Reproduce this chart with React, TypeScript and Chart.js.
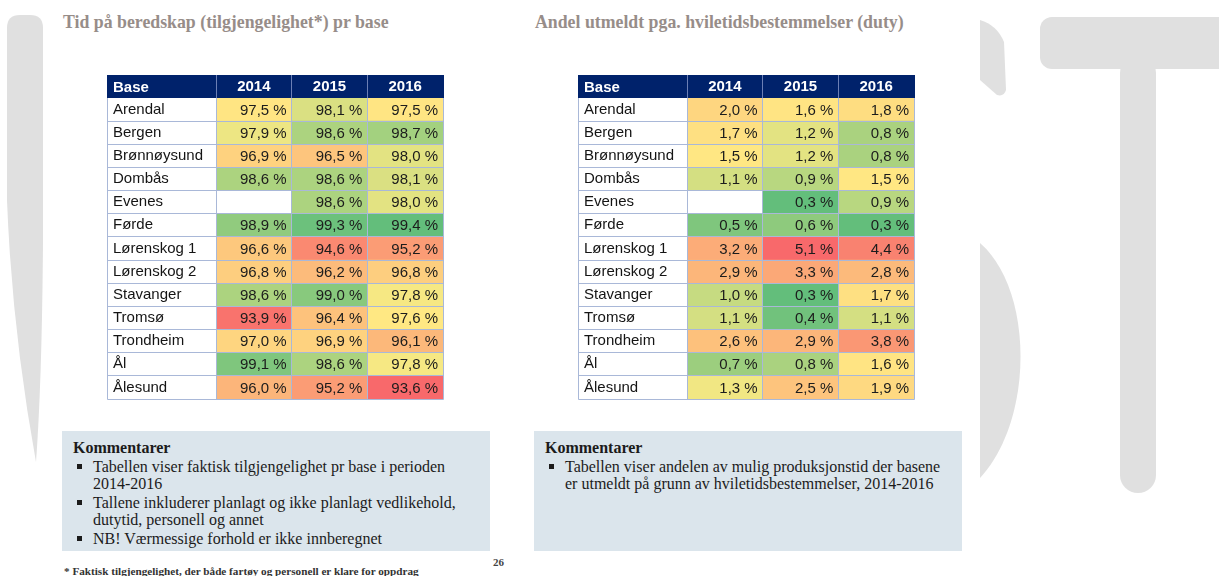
import React, { useEffect, useRef } from 'react';
import { Chart, registerables } from 'chart.js';

Chart.register(...registerables);

// ---------- data ----------
const bases = ['Arendal', 'Bergen', 'Brønnøysund', 'Dombås', 'Evenes', 'Førde', 'Lørenskog 1', 'Lørenskog 2', 'Stavanger', 'Tromsø', 'Trondheim', 'Ål', 'Ålesund'];
const years = ['2014', '2015', '2016'];

const avail2014 = [97.5, 97.9, 96.9, 98.6, null, 98.9, 96.6, 96.8, 98.6, 93.9, 97.0, 99.1, 96.0];
const avail2015 = [98.1, 98.6, 96.5, 98.6, 98.6, 99.3, 94.6, 96.2, 99.0, 96.4, 96.9, 98.6, 95.2];
const avail2016 = [97.5, 98.7, 98.0, 98.1, 98.0, 99.4, 95.2, 96.8, 97.8, 97.6, 96.1, 97.8, 93.6];

const duty2014 = [2.0, 1.7, 1.5, 1.1, null, 0.5, 3.2, 2.9, 1.0, 1.1, 2.6, 0.7, 1.3];
const duty2015 = [1.6, 1.2, 1.2, 0.9, 0.3, 0.6, 5.1, 3.3, 0.3, 0.4, 2.9, 0.8, 2.5];
const duty2016 = [1.8, 0.8, 0.8, 1.5, 0.9, 0.3, 4.4, 2.8, 1.7, 1.1, 3.8, 1.6, 1.9];

const leftTitle = 'Tid på beredskap (tilgjengelighet*) pr base';
const rightTitle = 'Andel utmeldt pga. hviletidsbestemmelser (duty)';
const leftComments = [
  ['Tabellen viser faktisk tilgjengelighet pr base i perioden', '2014-2016'],
  ['Tallene inkluderer planlagt og ikke planlagt vedlikehold,', 'dutytid, personell og annet'],
  ['NB! Værmessige forhold er ikke innberegnet'],
];
const rightComments = [
  ['Tabellen viser andelen av mulig produksjonstid der basene', 'er utmeldt på grunn av hviletidsbestemmelser, 2014-2016'],
];
const footnote = '* Faktisk tilgjengelighet, der både fartøy og personell er klare for oppdrag';
const pageNumber = '26';

// ---------- styles ----------
const NAVY = '#00226b';
const GRID = '#a9b8d8';
const HEAD_GRID = '#6b7fb5';
const SANS = 'Arial, "Liberation Sans", sans-serif';
const SERIF = '"Liberation Serif", "Times New Roman", serif';
const RED = [248, 105, 107];
const YEL = [255, 235, 132];
const GRN = [99, 190, 123];

function makeColorScale(vals: number[], higherIsBetter: boolean) {
  const s = [...vals].sort((a, b) => a - b);
  const min = s[0];
  const max = s[s.length - 1];
  const pos = (s.length - 1) * 0.5;
  const lo = Math.floor(pos);
  const mid = s[lo] + (s[Math.ceil(pos)] - s[lo]) * (pos - lo);
  const lowC = higherIsBetter ? RED : GRN;
  const highC = higherIsBetter ? GRN : RED;
  return (v: number) => {
    let a: number[], b: number[], t: number;
    if (v <= mid) { a = lowC; b = YEL; t = (v - min) / (mid - min); }
    else { a = YEL; b = highC; t = (v - mid) / (max - mid); }
    const c = a.map((x, i) => Math.round(x + (b[i] - x) * t));
    return `rgb(${c.join(',')})`;
  };
}

const fmt = (v: number) => `${v.toFixed(1).replace('.', ',')} %`;

const tablePlugin = {
  id: 'heatTable',
  beforeDraw(chart: any) {
    const { ctx, chartArea: ca, width, height } = chart;
    ctx.save();
    ctx.fillStyle = '#ffffff';
    ctx.fillRect(0, ca.top, width, height - ca.top);
    ctx.fillStyle = NAVY;
    ctx.fillRect(0, 0, width, ca.top);
    ctx.restore();
  },
  afterDatasetsDraw(chart: any) {
    const { ctx, chartArea: ca, scales } = chart;
    const xs = scales.x;
    const ys = scales.y;
    ctx.save();
    ctx.font = `15px ${SANS}`;
    ctx.fillStyle = '#1c1c1c';
    ctx.textAlign = 'right';
    ctx.textBaseline = 'middle';
    chart.data.datasets.forEach((ds: any, i: number) => {
      const meta = chart.getDatasetMeta(i);
      meta.data.forEach((el: any, j: number) => {
        const v = ds.values[j];
        if (v == null) return;
        ctx.fillText(fmt(v), el.x - 5, el.y + 1);
      });
    });
    const n = chart.data.labels.length;
    const rowH = ys.getPixelForValue(1) - ys.getPixelForValue(0);
    const px = (p: number) => Math.floor(p) + 0.5;
    const left = 0.5;
    const right = px(Math.min(xs.getPixelForValue(3), chart.width - 1));
    ctx.lineWidth = 1;
    ctx.strokeStyle = GRID;
    ctx.beginPath();
    for (let j = 1; j <= n; j++) {
      const yb = px(ys.getPixelForValue(j - 1) + rowH / 2);
      ctx.moveTo(left, yb);
      ctx.lineTo(right, yb);
    }
    const cols = [left, px(ca.left), px(xs.getPixelForValue(1)), px(xs.getPixelForValue(2)), right];
    cols.forEach((cx) => {
      ctx.moveTo(cx, ca.top);
      ctx.lineTo(cx, px(ca.bottom));
    });
    ctx.stroke();
    ctx.strokeStyle = HEAD_GRID;
    ctx.beginPath();
    cols.slice(1, 4).forEach((cx) => {
      ctx.moveTo(cx, 0);
      ctx.lineTo(cx, ca.top);
    });
    ctx.stroke();
    ctx.font = `bold 15px ${SANS}`;
    ctx.fillStyle = '#ffffff';
    ctx.textAlign = 'left';
    ctx.fillText('Base', 6, ca.top / 2 + 1);
    ctx.restore();
  },
};

function makeConfig(series: (number | null)[][], higherIsBetter: boolean): any {
  const all = series.flat().filter((v) => v != null) as number[];
  const color = makeColorScale(all, higherIsBetter);
  return {
    type: 'bar',
    data: {
      labels: bases,
      datasets: series.map((vals, ci) => ({
        label: years[ci],
        data: vals.map((v) => (v == null ? null : [ci, ci + 1])),
        values: vals,
        backgroundColor: vals.map((v) => (v == null ? 'rgba(0,0,0,0)' : color(v as number))),
        borderWidth: 0,
        barPercentage: 1,
        categoryPercentage: 1,
        grouped: false,
      })),
    },
    options: {
      indexAxis: 'y',
      animation: false,
      responsive: false,
      events: [],
      layout: { padding: { left: 6, right: 1, top: 0, bottom: 1 } },
      plugins: { legend: { display: false }, tooltip: { enabled: false }, title: { display: false } },
      scales: {
        x: {
          type: 'linear',
          position: 'top',
          min: 0,
          max: 3,
          grid: { display: false, drawTicks: false },
          border: { display: false },
          afterBuildTicks: (s: any) => { s.ticks = years.map((_, i) => ({ value: i + 0.5 })); },
          afterFit: (s: any) => { s.height = 23; },
          ticks: {
            autoSkip: false,
            maxRotation: 0,
            minRotation: 0,
            padding: 2,
            color: '#ffffff',
            font: { family: SANS, size: 15, weight: 'bold' },
            callback: (v: number) => years[Math.floor(v)],
          },
        },
        y: {
          type: 'category',
          offset: true,
          grid: { display: false, drawTicks: false },
          border: { display: false },
          afterFit: (s: any) => { s.width = 103; },
          ticks: {
            autoSkip: false,
            crossAlign: 'far',
            padding: 0,
            color: '#141414',
            font: { family: SANS, size: 15 },
          },
        },
      },
    },
    plugins: [tablePlugin],
  };
}

function HeatTable({ series, higherIsBetter, left, top }: any) {
  const ref = useRef<HTMLCanvasElement>(null);
  useEffect(() => {
    const chart = new Chart(ref.current as HTMLCanvasElement, makeConfig(series, higherIsBetter));
    return () => chart.destroy();
  }, []);
  return (
    <canvas
      ref={ref}
      width={337}
      height={333}
      style={{ position: 'absolute', left, top, width: 337, height: 333, display: 'block' }}
    />
  );
}

function CommentBox({ items, left }: any) {
  return (
    <div
      style={{
        position: 'absolute', left, top: 431, width: 428, height: 120, background: '#dbe5ec',
        fontFamily: SERIF, fontSize: 16, color: '#1b1b1b', boxSizing: 'border-box', padding: '0 0 0 11px',
      }}
    >
      <div style={{ fontWeight: 'bold', lineHeight: '18px', marginTop: 8 }}>Kommentarer</div>
      {items.map((lines: string[], i: number) => (
        <div key={i} style={{ position: 'relative', paddingLeft: 20, lineHeight: '17px', marginTop: i === 0 ? 1 : 2 }}>
          <span style={{ position: 'absolute', left: 4, top: 6, width: 5, height: 5, background: '#1b1b1b' }} />
          {lines.map((l, k) => (
            <div key={k} style={{ whiteSpace: 'nowrap' }}>{l}</div>
          ))}
        </div>
      ))}
    </div>
  );
}

export default function App() {
  const titleStyle: any = {
    position: 'absolute', top: 12, fontFamily: SERIF, fontWeight: 'bold', fontSize: 17.8,
    lineHeight: '20px', color: '#978d89', whiteSpace: 'nowrap',
  };
  return (
    <div style={{ position: 'absolute', left: 0, top: 0, width: 1219, height: 576, background: '#ffffff', overflow: 'hidden' }}>
      <svg width={1219} height={576} style={{ position: 'absolute', left: 0, top: 0 }}>
        <g fill="#e0e0e0">
          <path d="M7,28 Q7,15 20,15 L30,15 Q43,15 43,28 L43,240 Q42,380 36,462 Q12,330 7,200 Z" />
          <path d="M980,20 Q997,25 1004,42 L1006,90 Q1004,97 997,95 L980,80 Z" />
          <path d="M980,243 C1034,290 1034,420 980,478 Z" />
          <rect x={1040} y={17} width={210} height={52} rx={12} />
          <rect x={1120} y={55} width={36} height={438} rx={18} />
        </g>
      </svg>
      <div style={{ ...titleStyle, left: 63 }}>{leftTitle}</div>
      <div style={{ ...titleStyle, left: 535 }}>{rightTitle}</div>
      <HeatTable series={[avail2014, avail2015, avail2016]} higherIsBetter={true} left={107} top={75} />
      <HeatTable series={[duty2014, duty2015, duty2016]} higherIsBetter={false} left={578} top={75} />
      <CommentBox items={leftComments} left={62} />
      <CommentBox items={rightComments} left={534} />
      <div style={{ position: 'absolute', left: 64, top: 565, fontFamily: SERIF, fontWeight: 'bold', fontSize: 11.2, lineHeight: '12px', color: '#333', whiteSpace: 'nowrap' }}>{footnote}</div>
      <div style={{ position: 'absolute', left: 493, top: 556, fontFamily: SERIF, fontWeight: 'bold', fontSize: 11, lineHeight: '13px', color: '#444' }}>{pageNumber}</div>
    </div>
  );
}
